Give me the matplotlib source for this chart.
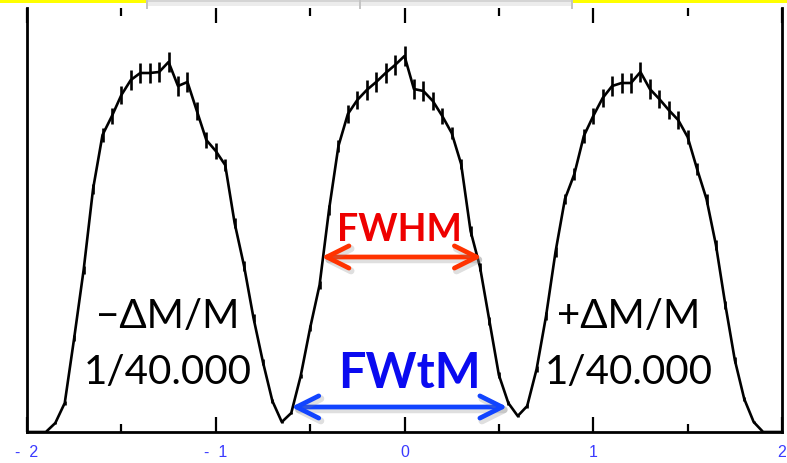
import numpy as np
import matplotlib
matplotlib.use("Agg")
import matplotlib.pyplot as plt
from matplotlib.patches import Rectangle
from matplotlib import patheffects as pe

# Mass scan: bin centres (in units of the peak spacing) and counts per bin
mass_offset = np.linspace(-2.0, 2.0, 81)
counts = [
    0, 0, 0, 9, 29, 94, 162, 243, 297, 316,
    337, 352, 359, 359, 360, 370, 346, 350, 321, 292,
    281, 267, 209, 166, 114, 70, 31, 10, 19, 56,
    104, 147, 222, 286, 318, 332, 342, 350, 359, 367,
    376, 343, 341, 331, 316, 299, 268, 201, 165, 111,
    57, 29, 16, 26, 63, 116, 180, 233, 258, 296,
    316, 334, 346, 349, 349, 360, 343, 333, 322, 312,
    295, 263, 233, 187, 127, 72, 33, 10, 0, 0,
    0,
]
count_err = [
    0, 0, 0, 1, 2, 3, 4, 5, 7, 8,
    9, 10, 10, 10, 10, 10, 10, 10, 9, 8,
    8, 6, 5, 5, 4, 3, 2, 1, 1, 2,
    3, 4, 5, 6, 9, 9, 10, 10, 10, 10,
    10, 10, 10, 9, 8, 6, 5, 5, 4, 4,
    3, 2, 1, 2, 3, 4, 5, 5, 6, 7,
    8, 9, 10, 10, 10, 10, 10, 9, 9, 9,
    7, 6, 5, 5, 4, 3, 2, 1, 0, 0,
    0,
]

tick_pos = [-2, -1, 0, 1, 2]
tick_labels = ["-  2", "-  1", "0", "1", "2"]
minor_pos = [-1.5, -0.5, 0.5, 1.5]

# Width markers: (left edge, right edge, height in counts)
fwhm = (-0.44, 0.41, 175)
fwtm = (-0.60, 0.545, 25)

W, H = 787, 464
fig = plt.figure(figsize=(W / 100, H / 100), dpi=100)
ax = fig.add_axes([27 / W, 1 - 433 / H, (782 - 27) / W, (433 - 9) / H])

ax.errorbar(mass_offset, counts, yerr=count_err, fmt="-", color="black",
            lw=1.9, elinewidth=1.9, capsize=0, zorder=3)

ax.set_xlim(-2.0, 2.0)
ax.set_ylim(0, 424)

ax.spines["top"].set_visible(False)
for side in ("left", "right", "bottom"):
    ax.spines[side].set_linewidth(2.0)
    ax.spines[side].set_color("black")

ax.set_yticks([])
ax.set_xticks(tick_pos)
ax.set_xticklabels(tick_labels)
ax.set_xticks(minor_pos, minor=True)
ax.tick_params(axis="x", which="major", direction="in", length=11, width=1.6,
               top=True, bottom=True, pad=9, labelsize=11.5, labelcolor="#3a3aff")
ax.tick_params(axis="x", which="minor", direction="in", length=5.5, width=1.6,
               top=True, bottom=True)
for lbl in ax.get_xticklabels():
    lbl.set_fontfamily(["Liberation Sans", "DejaVu Sans"])

txt_font = ["Lato", "DejaVu Sans"]
shadow = [pe.SimpleLineShadow(offset=(1.5, -2), shadow_color="0.5", alpha=0.25,
                              linewidth=5),
          pe.Normal()]

# FWHM marker
ax.annotate("", xy=(fwhm[0], fwhm[2]), xytext=(fwhm[1], fwhm[2]),
            arrowprops=dict(arrowstyle="<->,head_length=0.8,head_width=0.4",
                            color="#ff3300", lw=3.4, shrinkA=0, shrinkB=0,
                            mutation_scale=20, path_effects=shadow),
            zorder=4)
ax.text(-0.026, 203, "FWHM", color="#ee0000", fontsize=27, fontweight="bold",
        family=txt_font, ha="center", va="center", zorder=5)

# FWtM marker
ax.annotate("", xy=(fwtm[0], fwtm[2]), xytext=(fwtm[1], fwtm[2]),
            arrowprops=dict(arrowstyle="<->,head_length=0.8,head_width=0.4",
                            color="#1144ff", lw=3.4, shrinkA=0, shrinkB=0,
                            mutation_scale=20, path_effects=shadow),
            zorder=4)
ax.text(0.026, 60, "FWtM", color="#0a0af0", fontsize=35, fontweight="bold",
        family=txt_font, ha="center", va="center", zorder=5)

# Side-peak labels
ax.text(-1.255, 117, "\u2212\u0394M/M", fontsize=29, family=txt_font,
        ha="center", va="center", color="black", zorder=5)
ax.text(-1.255, 61, "1/40.000", fontsize=29, family=txt_font,
        ha="center", va="center", color="black", zorder=5)
ax.text(1.19, 117, "+\u0394M/M", fontsize=29, family=txt_font,
        ha="center", va="center", color="black", zorder=5)
ax.text(1.19, 61, "1/40.000", fontsize=29, family=txt_font,
        ha="center", va="center", color="black", zorder=5)

# Slide frame strip along the top edge
def frect(x0, y0, x1, y1, color):
    fig.patches.append(Rectangle((x0 / W, 1 - y1 / H), (x1 - x0) / W, (y1 - y0) / H,
                                 transform=fig.transFigure, color=color,
                                 zorder=10, lw=0))

frect(0, 0, 147, 4, "#ffff00")
frect(572, 0, W, 4, "#ffff00")
frect(147, 0, 572, 3, "#d4d4d4")
frect(147, 3, 572, 7, "#ececec")
for xm in (147, 360, 572):
    frect(xm - 0.8, 0, xm + 0.8, 10, "#c4c4c4")

fig.savefig("out.png", dpi=100)
